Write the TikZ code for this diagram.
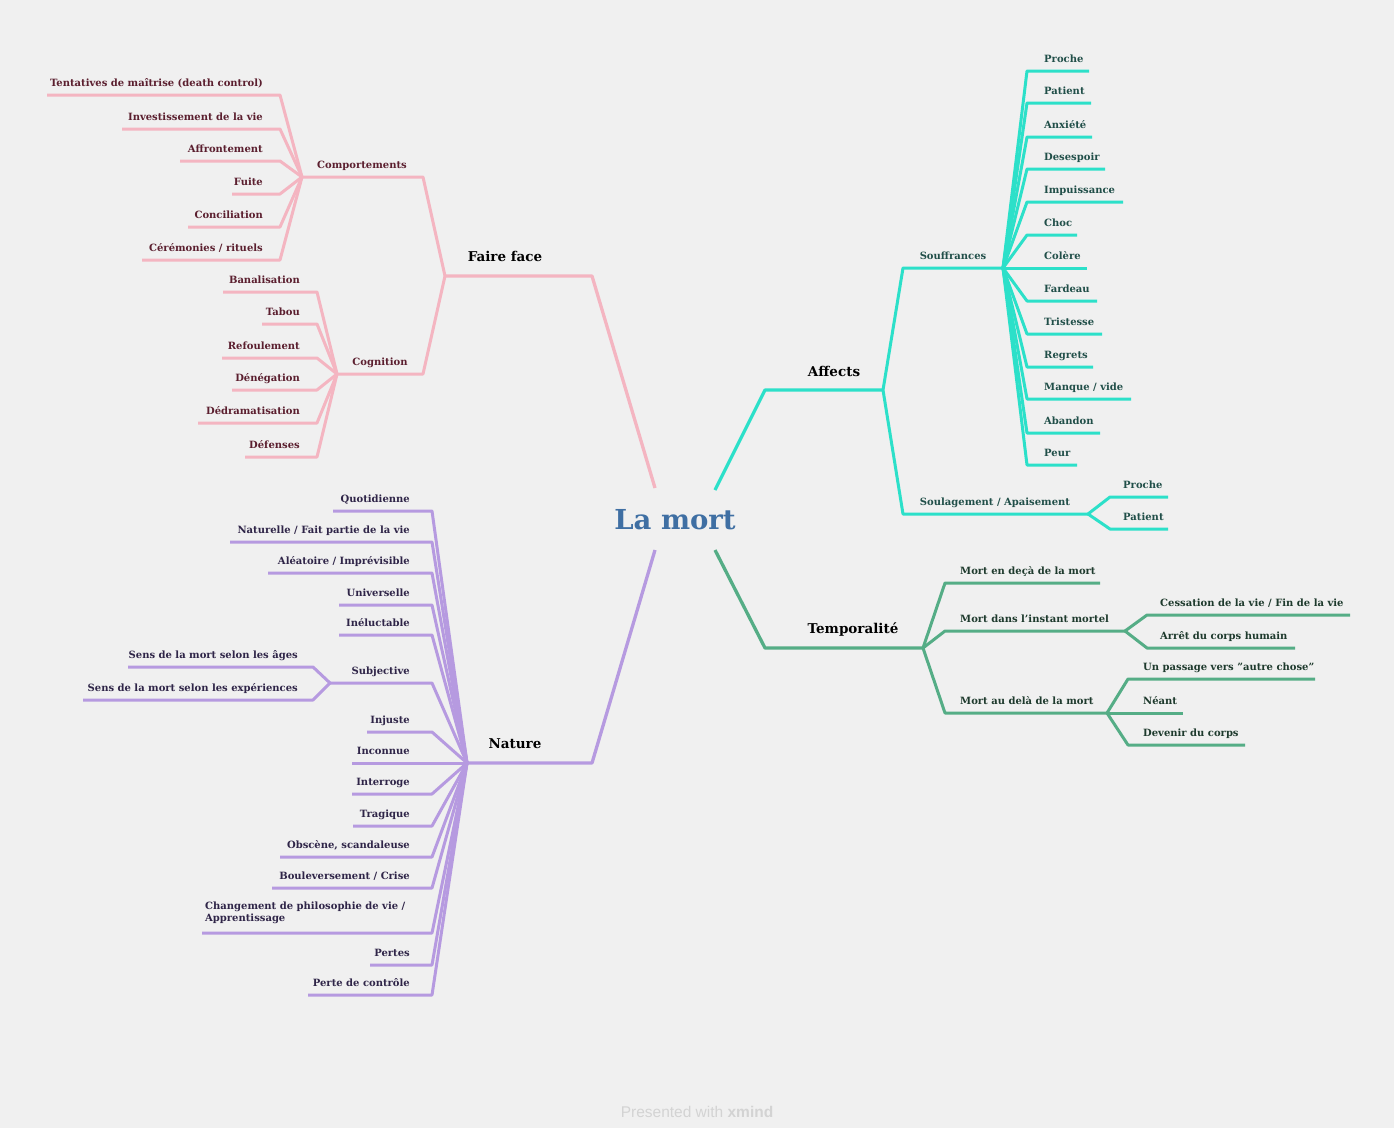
\documentclass[tikz,border=0pt]{standalone}
\usepackage{fontspec}
\setmainfont{DejaVu Serif}
\newfontfamily\footfont{Liberation Sans}
\definecolor{bgc}{HTML}{F0F0F0}
\definecolor{pinkc}{HTML}{F4B5C1}
\definecolor{pinkt}{HTML}{5B1F2F}
\definecolor{tealc}{HTML}{2CE0C9}
\definecolor{tealt}{HTML}{214F49}
\definecolor{greenc}{HTML}{55AD86}
\definecolor{greent}{HTML}{1E3A2D}
\definecolor{purc}{HTML}{B69AE0}
\definecolor{purt}{HTML}{2F2548}
\definecolor{bluec}{HTML}{3F6FA3}
\definecolor{footc}{HTML}{D3D3D3}
\tikzset{
  leaftext/.style={inner sep=0pt, font=\bfseries\fontsize{10}{12}\selectfont},
  maintext/.style={inner sep=0pt, text=black, font=\bfseries\fontsize{13.5}{16}\selectfont},
  pl/.style={draw=pinkc, line width=3pt, line join=round},
  tl/.style={draw=tealc, line width=3pt, line join=round},
  gl/.style={draw=greenc, line width=3pt, line join=round},
  vl/.style={draw=purc, line width=3pt, line join=round},
  pt/.style={leaftext, text=pinkt},
  tt/.style={leaftext, text=tealt},
  gt/.style={leaftext, text=greent},
  vt/.style={leaftext, text=purt},
}
\def\toff{17}
% left leaf: line style, text style, name, junction, x left, x bend, y, text
\newcommand\leafL[8]{%
  \coordinate (#3-l) at (#5,#7);
  \coordinate (#3-b) at (#6,#7);
  \node[#2, anchor=base east] (#3) at ({#6-\toff},{#7-9}) {#8};
  \draw[#1] (#4) -- (#3-b) -- (#3-l);
}
% right leaf: line style, text style, name, junction, x bend, x right, y, text
\newcommand\leafR[8]{%
  \coordinate (#3-b) at (#5,#7);
  \coordinate (#3-r) at (#6,#7);
  \node[#2, anchor=base west] (#3) at ({#5+\toff},{#7-9}) {#8};
  \draw[#1] (#4) -- (#3-b) -- (#3-r);
}
\begin{document}
\begin{tikzpicture}[x=1pt,y=-1pt]
\useasboundingbox (0,0) rectangle (1394,1128);
\fill[bgc] (0,0) rectangle (1394,1128);

% centre
\node[inner sep=0pt, text=bluec, font=\bfseries\fontsize{27.5}{32}\selectfont] (root) at (675,520) {La mort};
\coordinate (r-nw) at (655,488);
\coordinate (r-ne) at (715,490);
\coordinate (r-sw) at (655,550);
\coordinate (r-se) at (715,550);

% ---------- Faire face ----------
\coordinate (ff-e) at (592,276);
\coordinate (ff) at (445,276);
\node[maintext, anchor=base] (ffl) at (505,261) {Faire face};
\draw[pl, line width=3.3pt] (r-nw) -- (ff-e) -- (ff);

\coordinate (co-e) at (423,177);
\coordinate (co) at (302,177);
\node[pt, anchor=base] (col) at (362,168) {Comportements};
\draw[pl] (ff) -- (co-e) -- (co);

\coordinate (cg-e) at (423,374);
\coordinate (cg) at (337,374);
\node[pt, anchor=base] (cgl) at (380,365) {Cognition};
\draw[pl] (ff) -- (cg-e) -- (cg);

\leafL{pl}{pt}{c1}{co}{47}{280}{95}{Tentatives de maîtrise (death control)}
\leafL{pl}{pt}{c2}{co}{122}{280}{129}{Investissement de la vie}
\leafL{pl}{pt}{c3}{co}{180}{280}{161}{Affrontement}
\leafL{pl}{pt}{c4}{co}{232}{280}{194}{Fuite}
\leafL{pl}{pt}{c5}{co}{188}{280}{227}{Conciliation}
\leafL{pl}{pt}{c6}{co}{142}{280}{260}{Cérémonies / rituels}

\leafL{pl}{pt}{g1}{cg}{223}{317}{292}{Banalisation}
\leafL{pl}{pt}{g2}{cg}{262}{317}{324}{Tabou}
\leafL{pl}{pt}{g3}{cg}{222}{317}{358}{Refoulement}
\leafL{pl}{pt}{g4}{cg}{232}{317}{390}{Dénégation}
\leafL{pl}{pt}{g5}{cg}{198}{317}{423}{Dédramatisation}
\leafL{pl}{pt}{g6}{cg}{245}{317}{457}{Défenses}

% ---------- Affects ----------
\coordinate (af-w) at (765,390);
\coordinate (af) at (883,390);
\node[maintext, anchor=base] (afl) at (834,376) {Affects};
\draw[tl, line width=3.3pt] (r-ne) -- (af-w) -- (af);

\coordinate (sf-w) at (903,268);
\coordinate (sf) at (1003,268);
\node[tt, anchor=base] (sfl) at (953,259) {Souffrances};
\draw[tl] (af) -- (sf-w) -- (sf);

\coordinate (sl-w) at (903,514);
\coordinate (sl) at (1088,514);
\node[tt, anchor=base] (sll) at (995,505) {Soulagement / Apaisement};
\draw[tl] (af) -- (sl-w) -- (sl);

\leafR{tl}{tt}{s1}{sf}{1027}{1089}{71}{Proche}
\leafR{tl}{tt}{s2}{sf}{1027}{1091}{103}{Patient}
\leafR{tl}{tt}{s3}{sf}{1027}{1092}{137}{Anxiété}
\leafR{tl}{tt}{s4}{sf}{1027}{1105}{169}{Desespoir}
\leafR{tl}{tt}{s5}{sf}{1027}{1123}{202}{Impuissance}
\leafR{tl}{tt}{s6}{sf}{1027}{1077}{235}{Choc}
\leafR{tl}{tt}{s7}{sf}{1027}{1087}{268}{Colère}
\leafR{tl}{tt}{s8}{sf}{1027}{1097}{301}{Fardeau}
\leafR{tl}{tt}{s9}{sf}{1027}{1102}{334}{Tristesse}
\leafR{tl}{tt}{s10}{sf}{1027}{1093}{367}{Regrets}
\leafR{tl}{tt}{s11}{sf}{1027}{1131}{399}{Manque / vide}
\leafR{tl}{tt}{s12}{sf}{1027}{1100}{433}{Abandon}
\leafR{tl}{tt}{s13}{sf}{1027}{1077}{465}{Peur}

\def\toff{13}
\leafR{tl}{tt}{p1}{sl}{1110}{1168}{497}{Proche}
\leafR{tl}{tt}{p2}{sl}{1110}{1168}{529}{Patient}

% ---------- Temporalité ----------
\coordinate (tp-w) at (765,648);
\coordinate (tp) at (923,648);
\node[maintext, anchor=base] (tpl) at (853,633) {Temporalité};
\draw[gl, line width=3.3pt] (r-se) -- (tp-w) -- (tp);

\def\toff{15}
\leafR{gl}{gt}{t1}{tp}{945}{1100}{583}{Mort en deçà de la mort}
\leafR{gl}{gt}{t2}{tp}{945}{1125}{631}{Mort dans l'instant mortel}
\leafR{gl}{gt}{t3}{tp}{945}{1107}{713}{Mort au delà de la mort}
\coordinate (mdi) at (1125,631);
\coordinate (mad) at (1107,713);
\def\toff{13}
\leafR{gl}{gt}{t21}{mdi}{1147}{1350}{615}{Cessation de la vie / Fin de la vie}
\leafR{gl}{gt}{t22}{mdi}{1147}{1295}{648}{Arrêt du corps humain}
\def\toff{15}
\leafR{gl}{gt}{t31}{mad}{1128}{1315}{679}{Un passage vers "autre chose"}
\coordinate (t32-b) at (1128,713);
\coordinate (t32-r) at (1183,713);
\node[gt, anchor=base west] (t32) at (1143,704) {Néant};
\draw[gl] (mad) -- (t32-r);
\leafR{gl}{gt}{t33}{mad}{1128}{1245}{745}{Devenir du corps}

% ---------- Nature ----------
\coordinate (na-e) at (592,763);
\coordinate (na) at (467,763);
\node[maintext, anchor=base] (nal) at (515,748) {Nature};
\draw[vl, line width=3.3pt] (r-sw) -- (na-e) -- (na);

\def\toff{22}
\leafL{vl}{vt}{n1}{na}{333}{432}{511}{Quotidienne}
\leafL{vl}{vt}{n2}{na}{230}{432}{542}{Naturelle / Fait partie de la vie}
\leafL{vl}{vt}{n3}{na}{268}{432}{573}{Aléatoire / Imprévisible}
\leafL{vl}{vt}{n4}{na}{339}{432}{605}{Universelle}
\leafL{vl}{vt}{n5}{na}{339}{432}{635}{Inéluctable}
\leafL{vl}{vt}{n6}{na}{330}{432}{683}{Subjective}
\leafL{vl}{vt}{n7}{na}{367}{432}{732}{Injuste}
\coordinate (n8-l) at (352,763);
\node[vt, anchor=base east] (n8) at (410,754) {Inconnue};
\draw[vl] (na) -- (n8-l);
\leafL{vl}{vt}{n9}{na}{352}{432}{794}{Interroge}
\leafL{vl}{vt}{n10}{na}{353}{432}{826}{Tragique}
\leafL{vl}{vt}{n11}{na}{280}{432}{857}{Obscène, scandaleuse}
\leafL{vl}{vt}{n12}{na}{272}{432}{888}{Bouleversement / Crise}
\coordinate (n13-l) at (202,933);
\coordinate (n13-b) at (432,933);
\node[vt, anchor=base west, align=left] (n13) at (205,921) {Changement de philosophie de vie /\\Apprentissage};
\draw[vl] (na) -- (n13-b) -- (n13-l);
\leafL{vl}{vt}{n14}{na}{370}{432}{965}{Pertes}
\leafL{vl}{vt}{n15}{na}{308}{432}{995}{Perte de contrôle}

\coordinate (sj) at (330,683);
\def\toff{15}
\leafL{vl}{vt}{j1}{sj}{128}{313}{667}{Sens de la mort selon les âges}
\leafL{vl}{vt}{j2}{sj}{83}{313}{700}{Sens de la mort selon les expériences}

% footer
\node[inner sep=0pt, text=footc, font=\footfont\fontsize{15.5}{18}\selectfont] (foot) at (697,1112) {Presented with \textbf{xmind}};
\end{tikzpicture}
\end{document}
